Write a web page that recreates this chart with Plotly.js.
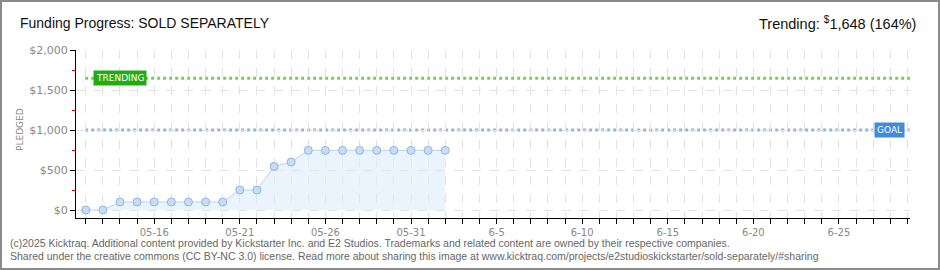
<!DOCTYPE html>
<html>
<head>
<meta charset="utf-8">
<script src="https://cdn.plot.ly/plotly-3.0.1.min.js"></script>
<style>
  html, body { margin: 0; padding: 0; background: #fff; }
  #wrap { position: relative; width: 940px; height: 270px; }
  #chart { width: 940px; height: 270px; }
  #frame { position: absolute; left: 0; top: 0; width: 940px; height: 270px; box-sizing: border-box; border: 2px solid #8a8a8a; pointer-events: none; }
</style>
</head>
<body>
<div id="wrap"><div id="chart"></div><div id="frame"></div></div>
<script>
// ---- data ----
const dates = ["2025-05-12","2025-05-13","2025-05-14","2025-05-15","2025-05-16","2025-05-17","2025-05-18","2025-05-19","2025-05-20","2025-05-21","2025-05-22","2025-05-23","2025-05-24","2025-05-25","2025-05-26","2025-05-27","2025-05-28","2025-05-29","2025-05-30","2025-05-31","2025-06-01","2025-06-02"];
const pledged = [0, 0, 100, 100, 100, 100, 100, 100, 100, 250, 250, 545, 600, 745, 745, 745, 745, 745, 745, 745, 745, 745];
const labelDates = ["2025-05-16","2025-05-21","2025-05-26","2025-05-31","2025-06-05","2025-06-10","2025-06-15","2025-06-20","2025-06-25"];
const labelTexts = ["05-16","05-21","05-26","05-31","6-5","6-10","6-15","6-20","6-25"];
const yTickVals = [0, 500, 1000, 1500, 2000];
const yTickTexts = ["$0", "$500", "$1,000", "$1,500", "$2,000"];
const goal = 1000;
const trending = 1648;
const trendingPct = 164;
const xRange = ["2025-05-11 10:20", "2025-06-29 03:36"];
const yRange = [-100, 2000];

const series = {
  x: dates, y: pledged, type: "scatter", mode: "lines+markers",
  line: { color: "#b9d5f2", width: 1 },
  marker: { size: 8, color: "#c6ddf7", line: { color: "#93b3da", width: 1 } },
  fill: "tozeroy", fillcolor: "rgba(222,235,250,0.6)",
  hoverinfo: "skip"
};

const layout = {
  width: 940, height: 270,
  margin: { l: 76, r: 30, t: 50, b: 52 },
  paper_bgcolor: "#fff", plot_bgcolor: "#fff",
  showlegend: false,
  title: {
    text: "Funding Progress: SOLD SEPARATELY",
    font: { family: "Liberation Sans, sans-serif", size: 14, color: "#111" },
    xref: "container", yref: "container", x: 20/940, xanchor: "left", y: 1 - 23.5/270, yanchor: "middle"
  },
  xaxis: {
    type: "date", range: xRange,
    tickvals: labelDates, ticktext: labelTexts,
    ticks: "outside", ticklen: 5, tickcolor: "#000", tickwidth: 1,
    tickfont: { family: "DejaVu Sans, sans-serif", size: 10, color: "#888" },
    showline: true, linecolor: "#000", linewidth: 1,
    showgrid: true, gridcolor: "#e2e2e2", griddash: "dash",
    minor: { dtick: 86400000, tick0: "2025-05-12", ticks: "outside", ticklen: 5, tickcolor: "#000", showgrid: true, gridcolor: "#e2e2e2", griddash: "dash" },
    zeroline: false, fixedrange: true
  },
  yaxis: {
    range: yRange, tickvals: yTickVals, ticktext: yTickTexts,
    ticks: "outside", ticklen: 5, tickcolor: "#000",
    tickfont: { family: "DejaVu Sans, sans-serif", size: 11, color: "#888" },
    showline: true, linecolor: "#000", linewidth: 1,
    showgrid: true, gridcolor: "#e2e2e2", griddash: "dash",
    minor: { tickvals: [250, 750, 1250, 1750], ticks: "outside", ticklen: 3, tickcolor: "#e00000", showgrid: false },
    zeroline: false, fixedrange: true
  },
  shapes: [
    { type: "line", xref: "paper", yref: "y", x0: 0.011, x1: 1, y0: trending, y1: trending, line: { color: "#7ccc5a", width: 3, dash: "dot" }, layer: "below" },
    { type: "line", xref: "paper", yref: "y", x0: 0.011, x1: 1, y0: goal, y1: goal, line: { color: "#93b5de", width: 3, dash: "dot" }, layer: "below" }
  ],
  annotations: [
    { xref: "paper", yref: "y", x: 17/834, y: trending, xanchor: "left", yanchor: "middle",
      text: "TRENDING", showarrow: false, bgcolor: "#1fae12", borderpad: 2,
      font: { family: "DejaVu Sans, sans-serif", size: 9, color: "#fff" } },
    { xref: "paper", yref: "y", x: 829/834, y: goal, xanchor: "right", yanchor: "middle",
      text: "GOAL", showarrow: false, bgcolor: "#3f8bdd", borderpad: 2,
      font: { family: "DejaVu Sans, sans-serif", size: 9, color: "#fff" } },
    { xref: "paper", yref: "paper", x: (918-76)/834, y: (218-23)/168, xanchor: "right", yanchor: "middle",
      text: "Trending: <sup>$</sup>" + trending.toLocaleString("en-US") + " (" + trendingPct + "%)", showarrow: false,
      font: { family: "Liberation Sans, sans-serif", size: 14.5, color: "#111" } },
    { xref: "paper", yref: "paper", x: (20-76)/834, y: (218-130)/168, xanchor: "center", yanchor: "middle",
      text: "PLEDGED", textangle: -90, showarrow: false,
      font: { family: "DejaVu Sans, sans-serif", size: 9, color: "#888" } },
    { xref: "paper", yref: "paper", x: (8-76)/834, y: (218-243)/168, xanchor: "left", yanchor: "middle",
      text: "(c)2025 Kicktraq. Additional content provided by Kickstarter Inc. and E2 Studios. Trademarks and related content are owned by their respective companies.",
      showarrow: false, font: { family: "Liberation Sans, sans-serif", size: 10.5, color: "#666" } },
    { xref: "paper", yref: "paper", x: (8-76)/834, y: (218-256)/168, xanchor: "left", yanchor: "middle",
      text: "Shared under the creative commons (CC BY-NC 3.0) license. Read more about sharing this image at www.kicktraq.com/projects/e2studioskickstarter/sold-separately/#sharing",
      showarrow: false, font: { family: "Liberation Sans, sans-serif", size: 10.5, color: "#666" } }
  ]
};

Plotly.newPlot("chart", [series], layout, { staticPlot: true, displayModeBar: false });
</script>
</body>
</html>
